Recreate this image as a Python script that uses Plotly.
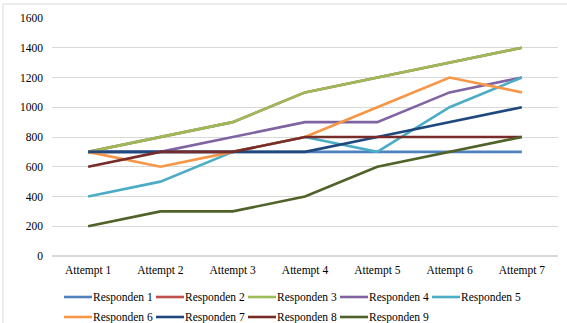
import plotly.graph_objects as go

attempts = ["Attempt 1", "Attempt 2", "Attempt 3", "Attempt 4", "Attempt 5", "Attempt 6", "Attempt 7"]
names = ["Responden 1", "Responden 2", "Responden 3", "Responden 4", "Responden 5",
         "Responden 6", "Responden 7", "Responden 8", "Responden 9"]

r1 = [700, 700, 700, 700, 700, 700, 700]
r2 = [700, 800, 900, 1100, 1200, 1300, 1400]
r3 = [700, 800, 900, 1100, 1200, 1300, 1400]
r4 = [700, 700, 800, 900, 900, 1100, 1200]
r5 = [400, 500, 700, 800, 700, 1000, 1200]
r6 = [700, 600, 700, 800, 1000, 1200, 1100]
r7 = [700, 700, 700, 700, 800, 900, 1000]
r8 = [600, 700, 700, 800, 800, 800, 800]
r9 = [200, 300, 300, 400, 600, 700, 800]

series = [r1, r2, r3, r4, r5, r6, r7, r8, r9]
colors = ["#4F81BD", "#C0504D", "#9BBB59", "#8064A2", "#4BACC6",
          "#F79646", "#1F497D", "#772C2A", "#4F6228"]

font = "Liberation Serif"
W, H = 567, 323
ML, MR, MT, MB = 52, 9, 18, 67
PW, PH = W - ML - MR, H - MT - MB


def px_x(p):
    return (p - ML) / PW


def px_y(p):
    return (H - MB - p) / PH


fig = go.Figure()
for name, vals, col in zip(names, series, colors):
    fig.add_trace(go.Scatter(x=attempts, y=vals, name=name, mode="lines",
                             line=dict(color=col, width=2.6)))

# Legend below the plot: two rows, five columns
shapes = [dict(type="rect", xref="paper", yref="paper",
               x0=px_x(3), x1=px_x(570), y0=px_y(330), y1=px_y(4),
               line=dict(color="#D9D9D9", width=1), layer="below")]
annotations = []
for i, (name, col) in enumerate(zip(names, colors)):
    row, colno = divmod(i, 5)
    x0 = 64 + 92 * colno
    yy = 297 + 20 * row
    shapes.append(dict(type="line", xref="paper", yref="paper",
                       x0=px_x(x0), x1=px_x(x0 + 28), y0=px_y(yy), y1=px_y(yy),
                       line=dict(color=col, width=2.6)))
    annotations.append(dict(xref="paper", yref="paper", x=px_x(x0 + 28), y=px_y(yy),
                            text=name, showarrow=False, xanchor="left", yanchor="middle",
                            xshift=-1, font=dict(family=font, size=11.5, color="#000000")))

fig.update_layout(
    width=W, height=H,
    margin=dict(l=ML, r=MR, t=MT, b=MB, autoexpand=False),
    paper_bgcolor="white", plot_bgcolor="white",
    font=dict(family=font, size=11.5, color="#000000"),
    showlegend=False,
    xaxis=dict(showgrid=False, zeroline=False, showline=False, ticks="",
               tickfont=dict(family=font, size=11.5), range=[-0.5, 6.5],
               ticklabelstandoff=5),
    yaxis=dict(range=[0, 1600], dtick=200, showgrid=True, gridcolor="#D9D9D9",
               gridwidth=1, zeroline=True, zerolinecolor="#D9D9D9", showline=False,
               ticks="", tickfont=dict(family=font, size=11.5), ticklabelstandoff=8),
    shapes=shapes,
    annotations=annotations,
)

fig.write_html("out.html")
